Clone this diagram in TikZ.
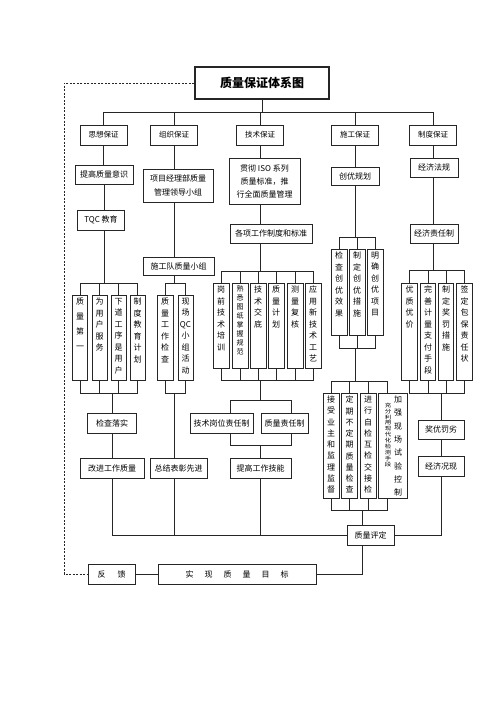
\documentclass[tikz,border=0pt]{standalone}
\usepackage{fontspec}
\usepackage{graphicx}
\setmainfont{Noto Sans CJK SC}
\usetikzlibrary{calc}
\newcommand\VB[6][11.5]{%
  \node[vbox, minimum width=#4, minimum height=#5] (#2) at (#3) {};
  \node[vtxt, font=\fontsize{8}{#1}\selectfont] (#2t) at ($(#2.north)+(0,3)$) {#6};}
\begin{document}
\begin{tikzpicture}[x=1pt,y=-1pt, line width=0.6pt, draw=black!85,
  hbox/.style={draw, inner sep=0pt, font=\fontsize{8}{10}\selectfont, align=center},
  sz/.style 2 args={minimum width=#1, minimum height=#2},
  vbox/.style={draw, inner sep=0pt},
  vtxt/.style={inner sep=0pt, align=center, anchor=north},
  lv1/.style={hbox, font=\fontsize{7.5}{9}\selectfont, sz={47}{20}}
]
\useasboundingbox (0,0) rectangle (500,707);
% title
\node[draw, line width=1.4pt, sz={134}{32}, font=\fontsize{12}{14}\selectfont\bfseries] (T) at (262,83) {质量保证体系图};
% level 1
\node[lv1] (s1) at (103.5,135) {思想保证};
\node[lv1] (s2) at (174,135) {组织保证};
\node[lv1] (s3) at (260,135) {技术保证};
\node[lv1] (s4) at (355,135) {施工保证};
\node[lv1] (s5) at (433,135) {制度保证};
\coordinate (tb) at (262,112);
\foreach \n in {s1,s2,s3,s4,s5} \draw (T.south) -- (tb) -| (\n.north);

% ---- column a
\node[hbox, sz={58}{19}] (a1) at (104,174.5) {提高质量意识};
\node[hbox, sz={47}{20}] (a2) at (101,220) {TQC 教育};
\draw (s1.south) -- (s1.south |- a1.north);
\draw (a1.south) -- (a1.south |- a2.north);
\VB[15]{a3}{80,337.5}{15}{85}{质\\量\\第\\一}
\VB{a4}{99.5,337.5}{15}{85}{为\\用\\户\\服\\务}
\VB{a5}{118.5,337.5}{15}{85}{下\\道\\工\\序\\是\\用\\户}
\VB{a6}{137.5,337.5}{15}{85}{制\\度\\教\\育\\计\\划}
\coordinate (ab1) at (104,283);
\draw (a2.south -| a1.south) -- (ab1);
\foreach \n in {a3,a4,a5,a6} \draw (ab1) -| (\n.north);
\coordinate (ab2) at (112,393);
\foreach \n in {a3,a4,a5,a6} \draw (\n.south) |- (ab2);
\node[hbox, sz={49}{20}] (a7) at (112,423) {检查落实};
\node[hbox, sz={64}{20}] (a8) at (112,468) {改进工作质量};
\draw (ab2) -- (a7.north);
\draw (a7.south) -- (a8.north);

% ---- column b
\node[hbox, sz={70}{33}, font=\fontsize{8}{14}\selectfont] (b1) at (178,185.5) {项目经理部质量\\管理领导小组};
\node[hbox, sz={71}{18}] (b2) at (178.5,266) {施工队质量小组};
\draw (s2.south) -- (s2.south |- b1.north);
\draw (s2.south |- b1.south) -- (s2.south |- b2.north);
\VB{b3}{165,337.5}{16}{85}{质\\量\\工\\作\\检\\查}
\VB{b4}{185.5,337.5}{15}{85}{现\\场\\QC\\小\\组\\活\\动}
\coordinate (bb1) at (174,283);
\draw (s2.south |- b2.south) -- (bb1);
\draw (bb1) -| (b3.north);
\draw (bb1) -| (b4.north);
\coordinate (bb2) at (174,393);
\draw (b3.south) |- (bb2);
\draw (b4.south) |- (bb2);
\node[hbox, sz={57}{20}] (b5) at (178.5,468) {总结表彰先进};
\draw (bb2) -- (bb2 |- b5.north);

% ---- column c
\node[hbox, sz={71}{46}, font=\fontsize{8}{13}\selectfont] (c1) at (264.5,181) {贯彻 ISO 系列\\质量标准，推\\行全面质量管理};
\node[hbox, sz={82}{19}] (c2) at (271,233.5) {各项工作制度和标准};
\draw (s3.south) -- (s3.south |- c1.north);
\draw (s3.south |- c1.south) -- (s3.south |- c2.north);
\VB{c3}{221,325.5}{16}{85}{岗\\前\\技\\术\\培\\训}
\node[vbox, minimum width=16, minimum height=85] (c4) at (240,325.5) {};
\node[vtxt, font=\fontsize{7}{9}\selectfont] (c4t) at ($(c4.north)+(0,3)$) {熟\\悉\\图\\纸\\掌\\握\\规\\范};
\VB{c5}{258,325.5}{16}{85}{技\\术\\交\\底}
\VB{c6}{276,325.5}{16}{85}{质\\量\\计\\划}
\VB{c7}{295,325.5}{16}{85}{测\\量\\复\\核}
\VB{c8}{313,325.5}{16}{85}{应\\用\\新\\技\\术\\工\\艺}
\coordinate (cb1) at (260,271);
\draw (s3.south |- c2.south) -- (cb1);
\foreach \n in {c3,c4,c5,c6,c7,c8} \draw (cb1) -| (\n.north);
\coordinate (cb2) at (260,380);
\foreach \n in {c3,c4,c5,c6,c7,c8} \draw (\n.south) |- (cb2);
\node[hbox, sz={63}{20}] (c9) at (221.5,423) {技术岗位责任制};
\node[hbox, sz={47}{20}] (c10) at (284.5,423) {质量责任制};
\node[hbox, sz={61}{20}] (c11) at (260.5,468) {提高工作技能};
\coordinate (cb3) at (260,400);
\draw (cb2) -- (cb3);
\draw (cb3) -| ([xshift=8.5pt]c9.north);
\draw (cb3) -| ([xshift=6.5pt]c10.north);
\coordinate (cb4) at (260,445);
\draw ([xshift=8.5pt]c9.south) |- (cb4);
\draw ([xshift=6.5pt]c10.south) |- (cb4);
\draw (cb4) -- (cb4 |- c11.north);

% ---- column d
\node[hbox, sz={48}{18}] (d1) at (355,176) {创优规划};
\draw (s4.south) -- (d1.north);
\VB{d2}{339,292}{16}{86}{检\\查\\创\\优\\效\\果}
\VB{d3}{357,292}{16}{86}{制\\定\\创\\优\\措\\施}
\VB{d4}{375,292}{16}{86}{明\\确\\创\\优\\项\\目}
\coordinate (db1) at (355,237);
\draw (d1.south) -- (db1);
\foreach \n in {d2,d3,d4} \draw (db1) -| (\n.north);
\coordinate (db2) at (355,348);
\foreach \n in {d2,d3,d4} \draw (\n.south) |- (db2);
\VB[11.25]{d5}{331,445.5}{16}{105}{接\\受\\业\\主\\和\\监\\理\\监\\督}
\VB[11.25]{d6}{349.5,445.5}{16}{105}{定\\期\\不\\定\\期\\质\\量\\检\\查}
\VB[11.25]{d7}{368,445.5}{16}{105}{进\\行\\自\\检\\互\\检\\交\\接\\检}
\node[vbox, minimum width=29, minimum height=105] (d8) at (392.5,445.5) {};
\node[vtxt, font=\fontsize{8}{13.3}\selectfont] (d8r) at ($(d8.north)+(5.5,3)$) {加\\强\\现\\场\\试\\验\\控\\制};
\node[vtxt, font=\fontsize{6.5}{6.6}\selectfont] (d8l) at ($(d8.north)+(-4.5,10)$) {\scalebox{1}[0.8]{\begin{tabular}{@{}c@{}}充\\分\\利\\用\\现\\代\\化\\检\\测\\手\\段\end{tabular}}};
\coordinate (db3) at (355,381);
\draw (db2) -- (db3);
\foreach \n in {d5,d6,d7} \draw (db3) -| (\n.north);
\draw (db3) -| ([xshift=-5.5pt]d8.north);
\coordinate (db4) at (362,510);
\foreach \n in {d5,d6,d7} \draw (\n.south) |- (db4);
\draw ([xshift=-5.5pt]d8.south) |- (db4);
\node[hbox, sz={47}{20}] (d9) at (370.5,535) {质量评定};
\draw (db4) -- (db4 |- d9.north);

% ---- column e
\node[hbox, sz={48}{19}] (e1) at (434,167.5) {经济法规};
\node[hbox, sz={48}{19}] (e2) at (434,233.5) {经济责任制};
\draw (s5.south) -- (s5.south |- e1.north);
\draw (s5.south |- e1.south) -- (s5.south |- e2.north);
\VB{e3}{409.5,331.5}{15.5}{97}{优\\质\\优\\价}
\VB{e4}{428,331.5}{15.5}{97}{完\\善\\计\\量\\支\\付\\手\\段}
\VB{e5}{446,331.5}{15.5}{97}{制\\定\\奖\\罚\\措\\施}
\VB{e6}{464.5,331.5}{15.5}{97}{签\\定\\包\\保\\责\\任\\状}
\coordinate (eb1) at (433,270);
\draw (s5.south |- e2.south) -- (eb1);
\foreach \n in {e3,e4,e5,e6} \draw (eb1) -| (\n.north);
\coordinate (eb2) at (441,393);
\foreach \n in {e3,e4,e5,e6} \draw (\n.south) |- (eb2);
\node[hbox, sz={46}{19}] (e7) at (441,429.5) {奖优罚劣};
\node[hbox, sz={46}{20}] (e8) at (441,466) {经济况现};
\draw (eb2) -- (e7.north);
\draw (e7.south) -- (e8.north);

% ---- bottom bus
\draw (a8.south) |- (d9.west);
\draw (b5.south -| bb2) -- (bb2 |- d9.west);
\draw (c11.south -| cb4) -- (cb4 |- d9.west);
\draw (e8.south) |- (d9.east);

% ---- bottom row
\node[hbox, sz={47}{20}] (f1) at (111.5,574) {反\hspace{12pt}馈};
\node[hbox, sz={158}{20}] (f2) at (237,574) {实\hspace{11pt}现\hspace{11pt}质\hspace{11pt}量\hspace{11pt}目\hspace{11pt}标};
\draw (f1.east) -- (f2.west);
\draw (d9.south -| db4) |- (f2.east);
\coordinate (dl) at (64,83);
\draw[dash pattern=on 2pt off 1.5pt] (T.west) -- (dl) |- (f1.west);
\end{tikzpicture}
\end{document}
